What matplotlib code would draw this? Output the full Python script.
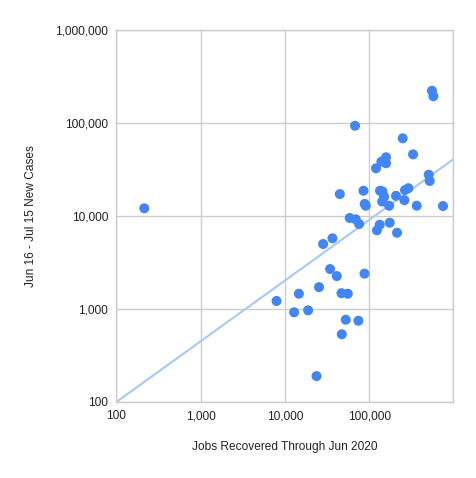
import numpy as np
import matplotlib
matplotlib.use("Agg")
import matplotlib.pyplot as plt
from matplotlib.ticker import FixedLocator, FuncFormatter

# Jobs recovered through Jun 2020 (x) vs Jun 16 - Jul 15 new cases (y), one point per state
jobs = [558000, 581000, 68200, 251000, 333000, 159000, 140000, 159000, 121000, 511000,
        525000, 45000, 85900, 135000, 144000, 151000, 209000, 267000, 293000, 143000,
        263000, 88900, 91400, 173000, 368000, 755000, 59000, 69500, 76200, 134000,
        124000, 176000, 215000, 36800, 28500, 34500, 41400, 88300, 7980, 14700,
        25500, 12900, 18900, 47100, 56000, 52900, 74800, 47500, 23800, 215]
cases = [222000, 194000, 93500, 68500, 46000, 42800, 38400, 36900, 32600, 27800,
         23800, 17200, 18700, 18700, 18400, 16100, 16500, 19000, 19900, 14300,
         14800, 13500, 12900, 12900, 12900, 12800, 9520, 9220, 8200, 8060,
         7020, 8470, 6610, 5760, 5000, 2690, 2260, 2400, 1220, 1460,
         1720, 922, 968, 1480, 1460, 767, 748, 535, 190, 12100]

# power trendline y = a * x^b
trend_a = 4.95
trend_b = 0.6525

x_ticks = [100, 1000, 10000, 100000, 1000000]
y_ticks = [100, 1000, 10000, 100000, 1000000]

plt.rcParams["font.family"] = ["Liberation Sans", "DejaVu Sans"]
fig = plt.figure(figsize=(4.77, 4.78), dpi=100)
ax = fig.add_axes([116.3 / 477, 76 / 478, 337 / 477, 372 / 478])

tx = np.array([100, 1000000])
ax.plot(tx, trend_a * tx ** trend_b, color="#a9c8f8", lw=1.5, zorder=2)
ax.scatter(jobs, cases, s=52, color="#4285f4", edgecolors="none", zorder=3)

ax.set_xscale("log")
ax.set_yscale("log")
ax.set_xlim(100, 1000000)
ax.set_ylim(100, 1000000)
ax.xaxis.set_major_locator(FixedLocator(x_ticks))
ax.yaxis.set_major_locator(FixedLocator(y_ticks))
ax.xaxis.set_minor_locator(FixedLocator([]))
ax.yaxis.set_minor_locator(FixedLocator([]))
ax.xaxis.set_major_formatter(FuncFormatter(lambda v, p: "" if v >= 1000000 else f"{int(round(v)):,}"))
ax.yaxis.set_major_formatter(FuncFormatter(lambda v, p: f"{int(round(v)):,}"))
ax.tick_params(length=0, labelsize=8.6, colors="#222222", pad=6)
ax.grid(True, color="#cccccc", lw=1)
for s in ax.spines.values():
    s.set_color("#cccccc")
    s.set_linewidth(1)
ax.set_axisbelow(True)

fig.text(284.8 / 477, 1 - 447 / 478, "Jobs Recovered Through Jun 2020",
         ha="center", va="center", fontsize=8.6, color="#222222")
fig.text(31 / 477, 1 - 216 / 478, "Jun 16 - Jul 15 New Cases", rotation=90,
         ha="center", va="center", fontsize=8.6, color="#222222")

fig.savefig("out.png", dpi=100)
